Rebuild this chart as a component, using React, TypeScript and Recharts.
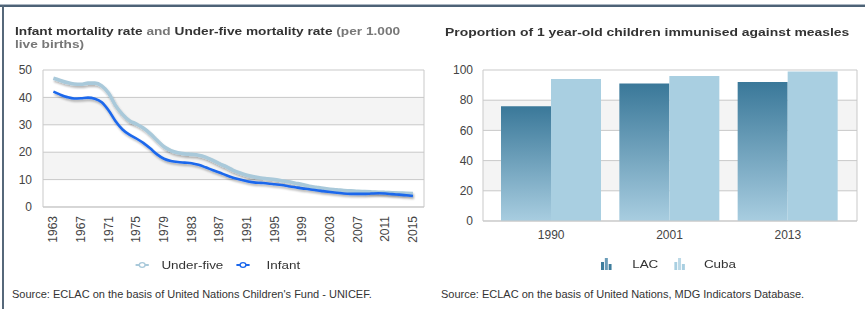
import React from 'react';
import { LineChart, Line, XAxis, YAxis, CartesianGrid, BarChart, Bar } from 'recharts';

const FONT = '"Liberation Sans", Arial, sans-serif';

// ---- Left chart data ----
const years = [
  1963, 1964, 1965, 1966, 1967, 1968, 1969, 1970, 1971, 1972, 1973, 1974, 1975, 1976, 1977, 1978, 1979, 1980,
  1981, 1982, 1983, 1984, 1985, 1986, 1987, 1988, 1989, 1990, 1991, 1992, 1993, 1994, 1995, 1996, 1997, 1998,
  1999, 2000, 2001, 2002, 2003, 2004, 2005, 2006, 2007, 2008, 2009, 2010, 2011, 2012, 2013, 2014, 2015,
];
const underFive = [
  47.0, 46.2, 45.4, 44.9, 44.8, 45.2, 45.2, 44.2, 41.5, 37.0, 33.8, 31.5, 30.3, 28.8, 26.8, 24.3, 22.0, 20.6,
  19.8, 19.4, 19.2, 18.9, 18.2, 17.1, 15.8, 14.7, 13.4, 12.4, 11.6, 11.0, 10.6, 10.3, 10.0, 9.6, 9.2, 8.7,
  8.2, 7.6, 7.2, 6.8, 6.5, 6.3, 6.0, 5.9, 5.7, 5.6, 5.5, 5.4, 5.3, 5.2, 5.1, 5.0, 4.9,
];
const infant = [
  42.1, 41.0, 40.1, 39.6, 39.7, 39.9, 39.5, 38.2, 35.2, 31.3, 28.3, 26.4, 25.0, 23.4, 21.4, 19.2, 17.6, 16.8,
  16.4, 16.2, 16.0, 15.4, 14.5, 13.5, 12.6, 11.6, 10.7, 10.0, 9.4, 9.0, 8.8, 8.6, 8.3, 8.0, 7.6, 7.2,
  6.8, 6.5, 6.1, 5.8, 5.5, 5.2, 4.9, 4.8, 4.8, 4.8, 4.9, 5.0, 4.9, 4.7, 4.5, 4.3, 4.0,
];
const yearTicks = [1963, 1967, 1971, 1975, 1979, 1983, 1987, 1991, 1995, 1999, 2003, 2007, 2011, 2015];
const mortalityTicks = [0, 10, 20, 30, 40, 50];
const mortalitySeries = [
  { key: 'underFive', name: 'Under-five', color: '#a9c9da' },
  { key: 'infant', name: 'Infant', color: '#1c68ec' },
];

// ---- Right chart data ----
const measlesYears = ['1990', '2001', '2013'];
const lacValues = [76, 91, 92];
const cubaValues = [94, 96, 99];
const measlesTicks = [0, 20, 40, 60, 80, 100];
const measlesSeries = [
  { key: 'lac', name: 'LAC' },
  { key: 'cuba', name: 'Cuba' },
];

const mortalityData = years.map((y, i) => ({ year: y, underFive: underFive[i], infant: infant[i] }));
const measlesData = measlesYears.map((y, i) => ({ year: y, lac: lacValues[i], cuba: cubaValues[i] }));

const borderGen = ({ offset }: any) => [offset.left, offset.left + offset.width];

const RotatedTick = (props: any) => {
  const { x, y, payload } = props;
  return (
    <text
      x={x}
      y={y}
      transform={`rotate(-90 ${x} ${y})`}
      textAnchor="end"
      dominantBaseline="central"
      fontSize={12}
      fill="#444"
      fontFamily={FONT}
    >
      {payload.value}
    </text>
  );
};

const tickStyle = { fontSize: 12, fill: '#444', fontFamily: FONT };
const STRETCH = 1.2;

const LineIcon = ({ color }: { color: string }) => (
  <svg width={12} height={10} style={{ display: 'inline-block', verticalAlign: 'middle' }}>
    <line x1={0.5} y1={5} x2={11.5} y2={5} stroke={color} strokeWidth={2} />
    <circle cx={6} cy={5} r={2.4} fill="#fff" stroke={color} strokeWidth={1.2} />
  </svg>
);

const BarIcon = ({ dark }: { dark: boolean }) => {
  const c1 = dark ? '#3e7d9d' : '#a9cfe1';
  const c2 = dark ? '#6a9cb8' : '#bcd9e7';
  return (
    <svg width={9} height={12} style={{ display: 'inline-block', verticalAlign: 'middle' }}>
      <rect x={0} y={4} width={2.5} height={8} fill={c1} />
      <rect x={3.2} y={0} width={2.5} height={12} fill={c2} />
      <rect x={6.4} y={6} width={2.5} height={6} fill={c1} />
    </svg>
  );
};

const stretched = (extra: React.CSSProperties): React.CSSProperties => ({
  position: 'absolute',
  transform: `scaleX(${STRETCH})`,
  transformOrigin: '0 0',
  whiteSpace: 'nowrap',
  ...extra,
});

export default function App() {
  return (
    <div
      style={{
        position: 'absolute',
        left: 0,
        top: 0,
        width: 865,
        height: 309,
        background: '#fff',
        overflow: 'hidden',
        fontFamily: FONT,
      }}
    >
      {/* frame */}
      <div style={{ position: 'absolute', left: 0, top: 4, width: 865, height: 1, background: '#aab6c2' }} />
      <div style={{ position: 'absolute', left: 0, top: 5, width: 865, height: 2, background: '#4d6276' }} />
      <div style={{ position: 'absolute', left: 2, top: 5, width: 2, height: 304, background: '#56687a' }} />

      {/* left title */}
      <div
        style={stretched({
          left: 15,
          top: 25,
          fontSize: 11.4,
          fontWeight: 'bold',
          lineHeight: '13px',
          color: '#333',
        })}
      >
        Infant mortality rate <span style={{ color: '#777' }}>and</span> Under-five mortality rate{' '}
        <span style={{ color: '#777' }}>
          (per 1.000
          <br />
          live births)
        </span>
      </div>

      {/* right title */}
      <div
        style={stretched({
          left: 445,
          top: 25,
          fontSize: 11.6,
          fontWeight: 'bold',
          lineHeight: '13px',
          color: '#333',
        })}
      >
        Proportion of 1 year-old children immunised against measles
      </div>

      {/* left chart */}
      <div style={{ position: 'absolute', left: 0, top: 0 }}>
        <LineChart width={430} height={250} data={mortalityData} margin={{ top: 70, right: 6, bottom: 10, left: 0 }}>
          <defs>
            <filter id="lineShadow" x="-20%" y="-30%" width="140%" height="160%">
              <feGaussianBlur in="SourceAlpha" stdDeviation="1.2" />
              <feOffset dx="1" dy="1.5" result="b" />
              <feComponentTransfer>
                <feFuncA type="linear" slope="0.3" />
              </feComponentTransfer>
              <feMerge>
                <feMergeNode />
                <feMergeNode in="SourceGraphic" />
              </feMerge>
            </filter>
          </defs>
          <CartesianGrid
            stroke="#c9c9c9"
            horizontalFill={['#ffffff', '#f4f4f4']}
            verticalCoordinatesGenerator={borderGen}
          />
          <XAxis
            dataKey="year"
            type="number"
            domain={[1961.5, 2016.6]}
            ticks={yearTicks}
            interval={0}
            height={33}
            tickSize={0}
            tickMargin={9}
            tickLine={false}
            axisLine={{ stroke: '#c9c9c9' }}
            tick={<RotatedTick />}
          />
          <YAxis
            domain={[0, 50]}
            ticks={mortalityTicks}
            width={43}
            tickSize={0}
            tickMargin={11}
            tickLine={false}
            axisLine={false}
            tick={tickStyle}
          />
          {mortalitySeries.map((s) => (
            <Line
              key={s.key}
              dataKey={s.key}
              name={s.name}
              type="monotone"
              stroke={s.color}
              strokeWidth={s.key === 'underFive' ? 3.6 : 2.6}
              dot={false}
              activeDot={false}
              filter="url(#lineShadow)"
              isAnimationActive={false}
            />
          ))}
        </LineChart>
      </div>

      {/* left legend */}
      <div
        style={stretched({
          left: 135,
          top: 259,
          fontSize: 11.2,
          color: '#333',
          display: 'flex',
          alignItems: 'center',
        })}
      >
        {mortalitySeries.map((s, i) => (
          <span key={s.key} style={{ display: 'inline-flex', alignItems: 'center', marginRight: i === 0 ? 10 : 0 }}>
            <LineIcon color={s.color} />
            <span style={{ marginLeft: i === 0 ? 10 : 14 }}>{s.name}</span>
          </span>
        ))}
      </div>

      {/* right chart */}
      <div style={{ position: 'absolute', left: 430, top: 0 }}>
        <BarChart
          width={435}
          height={250}
          data={measlesData}
          margin={{ top: 70, right: 8, bottom: 5, left: 0 }}
          barCategoryGap={9}
          barGap={0}
        >
          <defs>
            <linearGradient id="lacGrad" x1="0" y1="0" x2="0" y2="1">
              <stop offset="0%" stopColor="#3a7899" />
              <stop offset="100%" stopColor="#a8cde0" />
            </linearGradient>
          </defs>
          <CartesianGrid
            stroke="#c9c9c9"
            horizontalFill={['#ffffff', '#f4f4f4']}
            verticalCoordinatesGenerator={borderGen}
          />
          <XAxis
            dataKey="year"
            height={24}
            padding={{ left: 9, right: 10 }}
            tickSize={0}
            tickMargin={9}
            tickLine={false}
            axisLine={{ stroke: '#c9c9c9' }}
            tick={tickStyle}
          />
          <YAxis
            domain={[0, 100]}
            ticks={measlesTicks}
            width={53}
            tickSize={0}
            tickMargin={10}
            tickLine={false}
            axisLine={false}
            tick={tickStyle}
          />
          <Bar dataKey="lac" name="LAC" fill="url(#lacGrad)" isAnimationActive={false} />
          <Bar dataKey="cuba" name="Cuba" fill="#a9cfe1" isAnimationActive={false} />
        </BarChart>
      </div>

      {/* right legend */}
      <div
        style={stretched({
          left: 601,
          top: 258,
          fontSize: 11.2,
          color: '#333',
          display: 'flex',
          alignItems: 'center',
        })}
      >
        {measlesSeries.map((s, i) => (
          <span key={s.key} style={{ display: 'inline-flex', alignItems: 'center', marginRight: i === 0 ? 13 : 0 }}>
            <BarIcon dark={i === 0} />
            <span style={{ marginLeft: i === 0 ? 17 : 16 }}>{s.name}</span>
          </span>
        ))}
      </div>

      {/* sources */}
      <div style={{ position: 'absolute', left: 12, top: 288, fontSize: 11, color: '#333', whiteSpace: 'nowrap' }}>
        Source: ECLAC on the basis of United Nations Children's Fund - UNICEF.
      </div>
      <div style={{ position: 'absolute', left: 441, top: 288, fontSize: 11, color: '#333', whiteSpace: 'nowrap' }}>
        Source: ECLAC on the basis of United Nations, MDG Indicators Database.
      </div>
    </div>
  );
}
